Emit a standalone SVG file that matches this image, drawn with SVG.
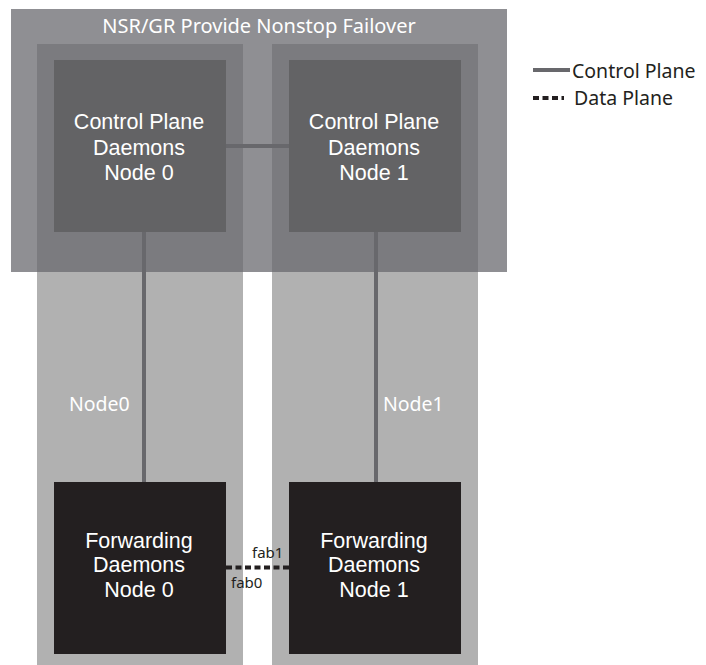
<svg xmlns="http://www.w3.org/2000/svg" width="706" height="665" viewBox="0 0 706 665">
  <style>
    .col { fill: #b1b1b1; }
    .cp { fill: #636365; }
    .fw { fill: #231f20; }
    .wt { fill: #ffffff; font-family: "Noto Sans", "DejaVu Sans", sans-serif; }
    .nt { font-family: "Liberation Sans", Arial, sans-serif; font-size: 21.5px; text-anchor: middle; }
    .dk { fill: #231f20; font-family: "Noto Sans", "DejaVu Sans", sans-serif; }
    .ctl { stroke: #68686c; stroke-width: 4; fill: none; }
    .dat { stroke: #231f20; stroke-width: 4; fill: none; stroke-dasharray: 6 3.5; }
  </style>
  <rect width="706" height="665" fill="#ffffff"/>
  <g id="column-node0">
    <rect class="col" x="37" y="44" width="206" height="621"/>
  </g>
  <g id="column-node1">
    <rect class="col" x="272" y="44" width="206" height="621"/>
  </g>
  <g id="nsr-gr">
    <rect x="11" y="9" width="496" height="263" fill="#696a6f" fill-opacity="0.75"/>
    <text class="wt" x="259" y="33" font-size="20" text-anchor="middle">NSR/GR Provide Nonstop Failover</text>
  </g>
  <g id="connectors">
    <line class="ctl" x1="226" y1="146" x2="289" y2="146"/>
    <line class="ctl" x1="144" y1="232" x2="144" y2="482"/>
    <line class="ctl" x1="376" y1="232" x2="376" y2="482"/>
    <line class="dat" x1="226" y1="567.5" x2="289" y2="567.5"/>
    <text class="dk" x="252" y="558" font-size="15">fab1</text>
    <text class="dk" x="231" y="588" font-size="15">fab0</text>
  </g>
  <g id="control-node0">
    <rect class="cp" x="54" y="60" width="172" height="172"/>
    <text class="wt nt" x="139" y="129">Control Plane</text>
    <text class="wt nt" x="139" y="155">Daemons</text>
    <text class="wt nt" x="139" y="180">Node 0</text>
  </g>
  <g id="control-node1">
    <rect class="cp" x="289" y="60" width="172" height="172"/>
    <text class="wt nt" x="374" y="129">Control Plane</text>
    <text class="wt nt" x="374" y="155">Daemons</text>
    <text class="wt nt" x="374" y="180">Node 1</text>
  </g>
  <g id="label-node0">
    <text class="wt" x="69" y="411" font-size="19.5">Node0</text>
  </g>
  <g id="label-node1">
    <text class="wt" x="383" y="411" font-size="19.5">Node1</text>
  </g>
  <g id="forwarding-node0">
    <rect class="fw" x="54" y="482" width="172" height="172"/>
    <text class="wt nt" x="139" y="548">Forwarding</text>
    <text class="wt nt" x="139" y="572">Daemons</text>
    <text class="wt nt" x="139" y="597">Node 0</text>
  </g>
  <g id="forwarding-node1">
    <rect class="fw" x="289" y="482" width="172" height="172"/>
    <text class="wt nt" x="374" y="548">Forwarding</text>
    <text class="wt nt" x="374" y="572">Daemons</text>
    <text class="wt nt" x="374" y="597">Node 1</text>
  </g>
  <g id="legend">
    <line class="ctl" x1="533" y1="70" x2="570" y2="70"/>
    <text class="dk" x="572" y="78" font-size="19.5">Control Plane</text>
    <line class="dat" x1="533" y1="98" x2="564" y2="98" stroke-dasharray="6 5"/>
    <text class="dk" x="574" y="105" font-size="19.5">Data Plane</text>
  </g>
</svg>
